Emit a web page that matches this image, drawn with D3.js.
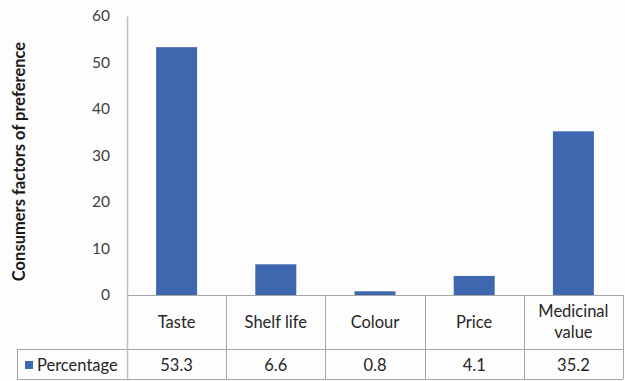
<!DOCTYPE html>
<html><head><meta charset="utf-8">
<script src="https://cdn.jsdelivr.net/npm/d3@7"></script>
<style>body{margin:0;background:#fdfdfd;}svg{display:block;font-family:Lato,"Open Sans",sans-serif;}</style>
</head><body>
<script>
const categories = [["Taste"],["Shelf life"],["Colour"],["Price"],["Medicinal","value"]];
const values = [53.3, 6.6, 0.8, 4.1, 35.2];
const valueLabels = ["53.3","6.6","0.8","4.1","35.2"];
const seriesName = "Percentage";
const yTicks = [0,10,20,30,40,50,60];
const yTitle = "Consumers factors of preference";

(function(){
const W = 625, H = 381;
const left = 127, right = 623, plotTop = 16, zeroY = 295, rowY = 349, bottomY = 379, legendLeft = 17;
const fs = 16.5;
const svg = d3.select("body").append("svg").attr("width", W).attr("height", H);
svg.append("rect").attr("width", W).attr("height", H).attr("fill", "#fdfdfd");

const x = d3.scaleBand().domain(categories.map((d,i)=>i)).range([left, right]).paddingInner(0).paddingOuter(0);
const y = d3.scaleLinear().domain([0,60]).range([zeroY, plotTop]);

const bw = 41;
svg.selectAll("rect.bar").data(values).join("rect").attr("class","bar")
  .attr("x",(d,i)=>x(i)+x.bandwidth()/2-bw/2).attr("width",bw)
  .attr("y",d=>y(d)).attr("height",d=>y(0)-y(d)).attr("fill","#3f67b0");

const ax = svg.append("g").attr("transform",`translate(${left},0)`)
  .call(d3.axisLeft(y).tickValues(yTicks).tickSize(0).tickPadding(17));
ax.select(".domain").attr("stroke","#bfbfbf").attr("stroke-width",1.5);
ax.selectAll("text").attr("font-size",15.5).attr("fill","#404040").attr("font-family","Lato,sans-serif");

svg.append("text").attr("transform",`translate(25,${(plotTop+zeroY)/2+6}) rotate(-90)`)
  .attr("text-anchor","middle").attr("font-weight","bold").attr("font-size",16.5).attr("fill","#1a1a1a").text(yTitle);

const g = svg.append("g").attr("stroke","#a6a6a6").attr("stroke-width",1);
g.append("line").attr("x1",left).attr("x2",right).attr("y1",zeroY+0.5).attr("y2",zeroY+0.5);
g.append("line").attr("x1",legendLeft).attr("x2",right).attr("y1",rowY+0.5).attr("y2",rowY+0.5);
g.append("line").attr("x1",legendLeft).attr("x2",right).attr("y1",bottomY+0.5).attr("y2",bottomY+0.5);
g.append("line").attr("x1",legendLeft+0.5).attr("x2",legendLeft+0.5).attr("y1",rowY).attr("y2",bottomY);
categories.forEach((c,i)=>{
  const xx = Math.round(x(i)+x.bandwidth())+0.5;
  g.append("line").attr("x1",xx).attr("x2",xx).attr("y1",zeroY).attr("y2",bottomY);
});
g.append("line").attr("x1",left+0.5).attr("x2",left+0.5).attr("y1",zeroY).attr("y2",bottomY).attr("stroke","#bfbfbf").attr("stroke-width",1.5);

categories.forEach((c,i)=>{
  const cx = x(i)+x.bandwidth()/2;
  const cy = 322;
  c.forEach((line,j)=>{
    svg.append("text").attr("x",cx).attr("y",cy + (j-(c.length-1)/2)*21).attr("dy","0.35em")
      .attr("text-anchor","middle").attr("font-size",fs).attr("fill","#262626").text(line);
  });
  svg.append("text").attr("x",cx).attr("y",(rowY+bottomY)/2+1).attr("dy","0.35em")
    .attr("text-anchor","middle").attr("font-size",fs).attr("fill","#262626").text(valueLabels[i]);
});

svg.append("rect").attr("x",25).attr("y",361).attr("width",8).attr("height",8).attr("fill","#3f67b0");
svg.append("text").attr("x",37).attr("y",(rowY+bottomY)/2+1).attr("dy","0.35em")
  .attr("font-size",fs).attr("fill","#262626").text(seriesName);
})();
</script>
</body></html>
